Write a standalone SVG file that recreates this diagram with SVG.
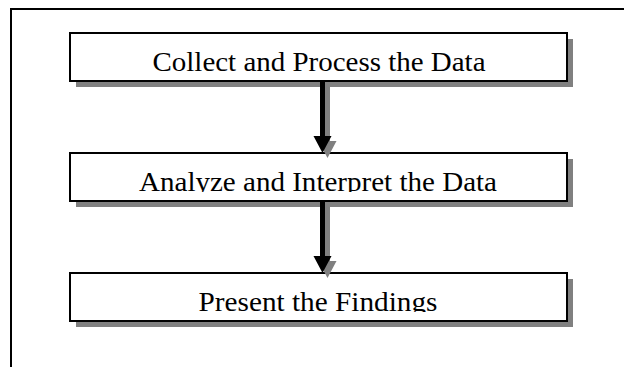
<svg xmlns="http://www.w3.org/2000/svg" width="624" height="367" viewBox="0 0 624 367">
<style>
.frame{fill:none;stroke:#000;stroke-width:2}
.box{fill:#fff;stroke:#000;stroke-width:2}
.shadow{fill:#808080;stroke:none}
.lbl{font-family:"Liberation Serif","Times New Roman",serif;font-size:28px;fill:#000;text-anchor:middle}
.ln{stroke:#000;stroke-width:5}
.lnS{stroke:#808080;stroke-width:5}
</style>
<defs>
<clipPath id="c1"><rect x="70" y="33" width="497" height="40"/></clipPath>
<clipPath id="c2"><rect x="70" y="153" width="497" height="39"/></clipPath>
<clipPath id="c3"><rect x="70" y="273" width="497" height="39"/></clipPath>
</defs>
<rect class="frame" x="11" y="9" width="700" height="500"/>
<g id="node1">
<rect class="shadow" x="76" y="39" width="497" height="48"/>
<rect class="box" x="70" y="33" width="497" height="48"/>
<text class="lbl" x="319" y="71" textLength="333" lengthAdjust="spacingAndGlyphs" clip-path="url(#c1)">Collect and Process the Data</text>
</g>
<g id="node2">
<rect class="shadow" x="76" y="159" width="497" height="48"/>
<rect class="box" x="70" y="153" width="497" height="48"/>
<text class="lbl" x="318" y="191" textLength="358" lengthAdjust="spacingAndGlyphs" clip-path="url(#c2)">Analyze and Interpret the Data</text>
</g>
<g id="node3">
<rect class="shadow" x="76" y="279" width="497" height="48"/>
<rect class="box" x="70" y="273" width="497" height="48"/>
<text class="lbl" x="318" y="311" textLength="239" lengthAdjust="spacingAndGlyphs" clip-path="url(#c3)">Present the Findings</text>
</g>
<g id="connectors">
<line class="lnS" x1="327.5" y1="82" x2="327.5" y2="142"/>
<polygon fill="#808080" points="318.5,141 336.5,141 327.5,158"/>
<line class="ln" x1="322.5" y1="82" x2="322.5" y2="137"/>
<polygon fill="#000" points="313.5,136 331.5,136 322.5,153"/>
<line class="lnS" x1="327.5" y1="202" x2="327.5" y2="262"/>
<polygon fill="#808080" points="318.5,261 336.5,261 327.5,278"/>
<line class="ln" x1="322.5" y1="202" x2="322.5" y2="257"/>
<polygon fill="#000" points="313.5,256 331.5,256 322.5,273"/>
</g>
</svg>
